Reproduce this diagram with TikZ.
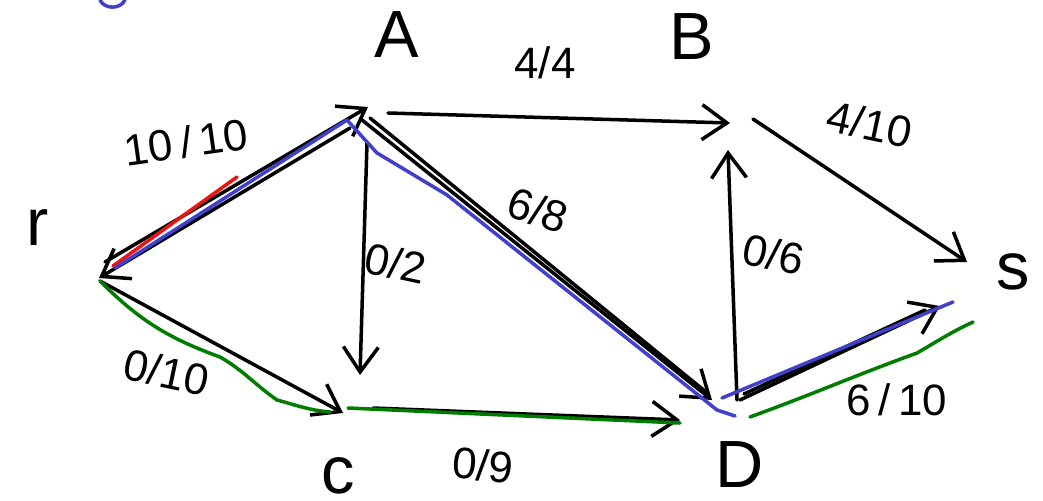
\documentclass[tikz,border=0pt]{standalone}
\usepackage{fontspec}
\setmainfont{Liberation Sans}
\usetikzlibrary{arrows.meta,positioning,calc}
\definecolor{penred}{RGB}{235,20,20}
\definecolor{penblue}{RGB}{64,64,204}
\definecolor{pengreen}{RGB}{0,125,0}

\begin{document}
\begin{tikzpicture}[x=0.02cm, y=-0.02cm, line width=2pt, line cap=round, line join=round,
  vname/.style={font=\fontsize{38}{40}\selectfont, inner sep=0pt},
  flowcap/.style={font=\fontsize{25}{28}\selectfont, inner sep=0pt},
  edgearrow/.style={-{Straight Barb[length=0.5cm, width=0.7cm]}},
  penline/.style={line width=2pt}]
\useasboundingbox (0,0) rectangle (1043,500);
% Vertices
\coordinate (r) at (97,277);
\coordinate (A) at (365,110);
\coordinate (B) at (737,125);
\coordinate (C) at (345,413);
\coordinate (D) at (728,404);
\coordinate (s) at (965,268);
% Vertex names
\node[vname] (nr) at (38,228) {r};
\node[vname] (nA) at (397,35) {A};
\node[vname] (nB) at (692,37) {B};
\node[vname] (nC) at (338,476) {c};
\node[vname] (nD) at (740,465) {D};
\node[vname] (ns) at (1013,272) {s};
% Flow / capacity
\node[flowcap, rotate=8] (lrA) at (186,142) {10\,/\,10};
\node[flowcap] (lAB) at (545,63) {4/4};
\node[flowcap, rotate=-12] (lBs) at (870,124) {4/10};
\node[flowcap, rotate=-12] (lAC) at (396,263) {0/2};
\node[flowcap, rotate=-18] (lAD) at (538,210) {6/8};
\node[flowcap, rotate=-12] (lDB) at (774,254) {0/6};
\node[flowcap, rotate=-12] (lrC) at (167,372) {0/10};
\node[flowcap, rotate=-5] (lCD) at (483,465) {0/9};
\node[flowcap] (lDs) at (897,400) {6\,/\,10};
% Edges
\draw[edgearrow] ([shift={(8,-15)}]r) -- ([shift={(3,-3)}]A);
\draw[edgearrow] ([shift={(-15,18)}]A) -- ([shift={(2,1)}]r);
\draw[edgearrow] ([shift={(23,3)}]A) -- ([shift={(-7,-2)}]B);
\draw[edgearrow] ([shift={(16,-6)}]B) -- ([shift={(2,-6)}]s);
\draw[edgearrow] ([shift={(9,-4)}]D) -- ([shift={(-9,25)}]B);
\draw[edgearrow] ([shift={(2,33)}]A) -- ([shift={(15,-38)}]C);
\draw[edgearrow] ([shift={(-3,10)}]A) -- ([shift={(-16,-4)}]D);
\draw ([shift={(5,8)}]A) -- ([shift={(-22,-12)}]D);
\draw[edgearrow] ([shift={(3,4)}]r) -- ([shift={(-2,0)}]C);
\draw[edgearrow] ([shift={(28,-5)}]C) -- ([shift={(-48,16)}]D);
\draw[edgearrow] ([shift={(12,-4)}]D) -- ([shift={(-25,38)}]s);
\draw ([shift={(16,-10)}]D) -- ([shift={(-40,42)}]s);
% Paths
\draw[penline, penred] ([shift={(16,-11)}]r) -- ([shift={(-128,67)}]A);
\draw[penline, penblue] ([shift={(18,-9)}]r) -- ([shift={(-18,10)}]A) -- ([shift={(12,43)}]A)
  -- ([shift={(82,85)}]A) -- ([shift={(-11,6)}]D) -- ([shift={(7,12)}]D);
\draw[penline, penblue] ([shift={(-6,-6)}]D) -- ([shift={(-12,34)}]s);
\draw[penline, pengreen] ([shift={(3,4)}]r) to[out=-45,in=160] ([shift={(-125,-56)}]C)
  to[out=-30,in=145] ([shift={(-68,-13)}]C) to[out=-15,in=175] ([shift={(-15,-1)}]C);
\draw[penline, pengreen] ([shift={(3,-5)}]C) -- ([shift={(-48,19)}]D);
\draw[penline, pengreen] ([shift={(22,13)}]D) to[out=20,in=200] ([shift={(-48,85)}]s)
  to[out=30,in=205] ([shift={(8,54)}]s);
\draw[penline, penblue] (100,0) .. controls (104,9) and (120,10) .. (125,0);
\end{tikzpicture}
\end{document}
